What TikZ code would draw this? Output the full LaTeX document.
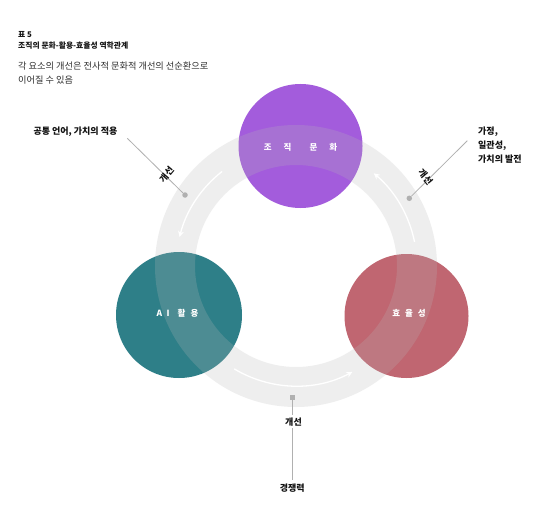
\documentclass[tikz,border=0pt]{standalone}
\usepackage{fontspec}
\setmainfont{Noto Sans CJK KR}
\usetikzlibrary{arrows.meta}
\definecolor{cpurple}{HTML}{A35CDC}
\definecolor{cteal}{HTML}{2E7F88}
\definecolor{cred}{HTML}{C06671}
\definecolor{ringgray}{HTML}{B8B8B8}
\definecolor{txtdark}{HTML}{141414}
\definecolor{txtgray}{HTML}{2E2E2E}
\definecolor{callgray}{HTML}{B0B0B0}
\begin{document}
\begin{tikzpicture}[x=1pt,y=1pt,
  bigcirc/.style={circle,draw=none,inner sep=0pt},
  circlabel/.style={text=white,font=\fontsize{8.5}{10}\bfseries,inner sep=0pt},
  flowarrow/.style={white,line width=1.3pt,-{Stealth[length=6pt,width=6pt,inset=2pt]}},
  callline/.style={callgray,line width=0.8pt},
  calldot/.style={circle,fill=callgray,draw=none,inner sep=0pt,minimum size=5.5pt},
  callsq/.style={rectangle,fill=callgray,draw=none,inner sep=0pt,minimum size=5pt},
  calltext/.style={text=txtdark,font=\fontsize{9}{14}\bfseries,inner sep=0pt},
  titletext/.style={text=txtdark,font=\fontsize{7.8}{9}\bfseries,inner sep=0pt,anchor=west},
  subtext/.style={text=txtgray,font=\fontsize{9.2}{10}\selectfont,inner sep=0pt,anchor=west}
]
\useasboundingbox (0,0) rectangle (556,515);
\fill[white] (0,0) rectangle (556,515);

% title
\node[titletext] (t1) at (18,480) {표 5};
\node[titletext] (t2) at (18,469.3) {조직의 문화-활용-효율성 역학관계};
\node[subtext] (s1) at (18,449.3) {각 요소의 개선은 전사적 문화적 개선의 선순환으로};
\node[subtext] (s2) at (18,435) {이어질 수 있음};

% circles
\node[bigcirc,fill=cpurple,minimum size=124pt] (culture) at (300.5,369) {};
\node[bigcirc,fill=cteal,minimum size=126pt] (ai) at (179,200) {};
\node[bigcirc,fill=cred,minimum size=124pt] (eff) at (406.5,199) {};

% ring
\coordinate (rc) at (296,249);
\fill[ringgray,fill opacity=0.23,even odd rule] (rc) circle[radius=141] (rc) circle[radius=101];

% flow arrows
\draw[flowarrow] ([shift={(128:120)}]rc) arc[start angle=128,end angle=166,radius=120];
\draw[flowarrow] ([shift={(239:120)}]rc) arc[start angle=239,end angle=298,radius=120];
\draw[flowarrow] ([shift={(11.5:121)}]rc) arc[start angle=11.5,end angle=50,radius=121];

% circle labels
\node[circlabel] (lculture) at (300.5,367.3) {조\hspace{12pt}직\hspace{18pt}문\hspace{12pt}화};
\node[circlabel] (lai) at (177.5,201.7) {A\hspace{4.5pt}I\hspace{8pt}활\hspace{5pt}용};
\node[circlabel] (leff) at (409,201.7) {효\hspace{5pt}율\hspace{5pt}성};

% left callout
\node[calltext,anchor=west] (ltext) at (33.3,383.3) {공통 언어, 가치의 적용};
\coordinate (lstart) at (127.3,376.7);
\node[calldot] (ldot) at (185,320) {};
\draw[callline] (lstart) -- (ldot);
\node[calltext,rotate=50] (llab) at (166.5,340.5) {개선};

% right callout
\node[calltext,anchor=west,align=left] (rtext) at (478,370) {가정,\\일관성,\\가치의 발전};
\coordinate (rstart) at (467.3,374.3);
\node[calldot] (rdot) at (409.3,316.7) {};
\draw[callline] (rstart) -- (rdot);
\node[calltext,rotate=-50] (rlab) at (425.5,338) {개선};

% bottom callout
\node[callsq] (bsq) at (292.3,117.3) {};
\node[calltext] (btext) at (292.3,27.3) {경쟁력};
\coordinate (bend) at (292.3,35);
\draw[callline] (bsq) -- (bend);
\node[calltext,fill=white,inner sep=2pt] (blab) at (293.5,93.3) {개선};
\end{tikzpicture}
\end{document}
